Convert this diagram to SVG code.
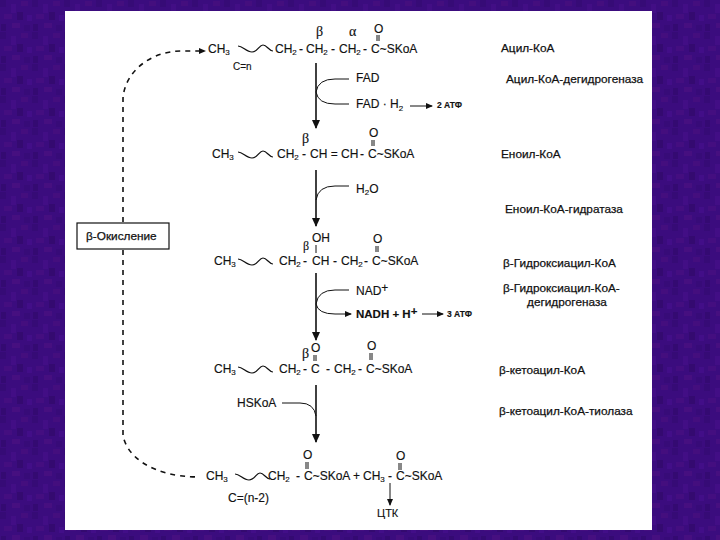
<svg xmlns="http://www.w3.org/2000/svg" width="720" height="540" viewBox="0 0 720 540">
<style>
text{font-family:"Liberation Sans",Arial,sans-serif;fill:#111;font-size:12px;stroke:#111;stroke-width:.15px}
.s{font-size:8px}
.g{font-family:"Liberation Serif","DejaVu Serif",serif;font-size:14px}
.a{font-size:8.5px;font-weight:bold}
.l{font-size:11.8px;stroke-width:.25px}
.w{fill:none;stroke:#111;stroke-width:1.2}
.t{fill:none;stroke:#111;stroke-width:1}
.m{fill:none;stroke:#111;stroke-width:1.6}
.d{fill:none;stroke:#111;stroke-width:1.6;stroke-dasharray:5 5}
</style>
<defs>
<pattern id="bg" width="32" height="32" patternUnits="userSpaceOnUse">
<rect width="32" height="32" fill="#3b0c7e"/>
<rect x="0" y="0" width="6" height="7" fill="#360b76"/>
<rect x="11" y="4" width="5" height="9" fill="#420e85"/>
<rect x="21" y="1" width="7" height="5" fill="#440e7e"/>
<rect x="4" y="14" width="8" height="5" fill="#440e80"/>
<rect x="17" y="12" width="6" height="8" fill="#340a70"/>
<rect x="27" y="15" width="5" height="6" fill="#420e88"/>
<rect x="1" y="24" width="5" height="7" fill="#340a72"/>
<rect x="12" y="23" width="8" height="5" fill="#460f80"/>
<rect x="24" y="25" width="6" height="6" fill="#370b78"/>
</pattern>
<marker id="ah" markerWidth="7" markerHeight="6" refX="6" refY="3" orient="auto" markerUnits="userSpaceOnUse"><path d="M0 0L7 3L0 6Z" fill="#111"/></marker>
<marker id="al" markerWidth="9" markerHeight="8" refX="8" refY="4" orient="auto" markerUnits="userSpaceOnUse"><path d="M0 0L9 4L0 8Z" fill="#111"/></marker>
<path id="wave" d="M0 0C5 0 8 6 14 6C20 6 21 -1 25 -1C29 -1 31 5 35 5"/>
</defs>
<rect width="720" height="540" fill="url(#bg)"/>
<rect x="65" y="11" width="587" height="519" fill="#fff"/>

<g id="connectors">
<path class="d" d="M123 222V98C125 72 150 51 182 51H205" marker-end="url(#ah)"/>
<path class="d" d="M123 250V435C126 455 150 477 200 477"/>
<path class="m" d="M316 63V128" marker-end="url(#al)"/>
<path class="m" d="M316 170V226" marker-end="url(#al)"/>
<path class="m" d="M316 273V340" marker-end="url(#al)"/>
<path class="m" d="M316 385V442" marker-end="url(#al)"/>
<path class="t" d="M349 79H335Q318 79 316 92Q318 104 335 104H349"/>
<path class="t" d="M349 186H335Q318 186 316 200"/>
<path class="t" d="M349 290H335Q318 290 316 304Q318 314 335 314H351" marker-end="url(#ah)"/>
<path class="t" d="M282 403H300Q314 403 316 416"/>
<path class="t" d="M410 106H432" marker-end="url(#ah)"/>
<path class="t" d="M422 314H443" marker-end="url(#ah)"/>
<path class="t" d="M390 483V505" marker-end="url(#ah)"/>
</g>

<g id="node-beta-ox"><rect x="77" y="223" width="92" height="26" fill="#fff" stroke="#111" stroke-width="1.2"/><text x="86" y="240" class="l">β-Окисление</text></g>

<g id="acyl-coa">
<use href="#wave" x="238" y="46" class="w"/>
<text x="208" y="53">CH<tspan class="s" dy="2">3</tspan></text>
<text y="53"><tspan x="275">CH</tspan><tspan class="s" dy="2">2</tspan><tspan x="299" dy="-2">-</tspan><tspan x="306">CH</tspan><tspan class="s" dy="2">2</tspan><tspan x="331" dy="-2">-</tspan><tspan x="339">CH</tspan><tspan class="s" dy="2">2</tspan><tspan x="363" dy="-2">-</tspan><tspan x="371">C~SKoA</tspan></text>
<text x="233" y="70" style="font-size:10px">C=n</text>
<text x="316" y="36" class="g">β</text><text x="349" y="36" class="g">α</text>
<text x="374" y="33">O</text>
<path class="t" d="M377 35V41M379 35V41"/>
<text x="356" y="82">FAD</text>
<text x="356" y="108">FAD · H<tspan class="s" dy="3">2</tspan></text>
<text x="437" y="108" class="a">2 АТФ</text>
</g>

<g id="enoyl-coa">
<use href="#wave" x="238" y="152" class="w"/>
<text x="212" y="158">CH<tspan class="s" dy="2">3</tspan></text>
<text y="158"><tspan x="277">CH</tspan><tspan class="s" dy="2">2</tspan><tspan x="302" dy="-2">-</tspan><tspan x="310">CH = CH</tspan><tspan x="360">-</tspan><tspan x="368">C~SKoA</tspan></text>
<text x="302" y="143" class="g">β</text>
<text x="369" y="137">O</text>
<path class="t" d="M372 140V146M374 140V146"/>
<text x="356" y="193">H<tspan class="s" dy="2">2</tspan><tspan dy="-2">O</tspan></text>
</g>

<g id="hydroxyacyl-coa">
<use href="#wave" x="238" y="259" class="w"/>
<text x="214" y="265">CH<tspan class="s" dy="2">3</tspan></text>
<text y="265"><tspan x="279">CH</tspan><tspan class="s" dy="2">2</tspan><tspan x="303" dy="-2">-</tspan><tspan x="312">CH</tspan><tspan x="333">-</tspan><tspan x="341">CH</tspan><tspan class="s" dy="2">2</tspan><tspan x="364" dy="-2">-</tspan><tspan x="372">C~SKoA</tspan></text>
<text x="312" y="242">OH</text>
<text x="303" y="250" class="g" style="font-size:12px">β</text>
<path class="t" d="M316 245V253"/>
<text x="373" y="243">O</text>
<path class="t" d="M376 246V252M378 246V252"/>
<text x="356" y="295">NAD<tspan dy="-3">+</tspan></text>
<text x="356" y="318" style="font-weight:bold;font-size:11.5px">NADH + H<tspan dy="-3">+</tspan></text>
<text x="447" y="317" class="a">3 АТФ</text>
</g>

<g id="ketoacyl-coa">
<use href="#wave" x="238" y="367" class="w"/>
<text x="214" y="373">CH<tspan class="s" dy="2">3</tspan></text>
<text y="373"><tspan x="279">CH</tspan><tspan class="s" dy="2">2</tspan><tspan x="303" dy="-2">-</tspan><tspan x="311">C</tspan><tspan x="326">-</tspan><tspan x="334">CH</tspan><tspan class="s" dy="2">2</tspan><tspan x="358" dy="-2">-</tspan><tspan x="366">C~SKoA</tspan></text>
<text x="302" y="358" class="g">β</text>
<text x="311" y="352">O</text>
<path class="t" d="M314 355V361M316 355V361"/>
<text x="367" y="350">O</text>
<path class="t" d="M370 353V360M372 353V360"/>
<text x="237" y="407">HSKoA</text>
</g>

<g id="products">
<use href="#wave" x="235" y="474" class="w"/>
<text x="206" y="480">CH<tspan class="s" dy="2">3</tspan></text>
<text y="480"><tspan x="268">CH</tspan><tspan class="s" dy="2">2</tspan><tspan x="296" dy="-2">-</tspan><tspan x="304">C~SKoA</tspan><tspan x="353">+</tspan><tspan x="363">CH</tspan><tspan class="s" dy="2">3</tspan><tspan x="388" dy="-2">-</tspan><tspan x="396">C~SKoA</tspan></text>
<text x="303" y="459">O</text>
<path class="t" d="M306 462V469M308 462V469"/>
<text x="396" y="460">O</text>
<path class="t" d="M399 463V470M401 463V470"/>
<text x="228" y="502">C=(n-2)</text>
<text x="377" y="517" style="font-size:11px">ЦТК</text>
</g>

<g id="labels">
<text x="501" y="52" class="l">Ацил-КоА</text>
<text x="506" y="83" class="l">Ацил-КоА-дегидрогеназа</text>
<text x="501" y="158" class="l">Еноил-КоА</text>
<text x="505" y="213" class="l">Еноил-КоА-гидратаза</text>
<text x="503" y="267" class="l">β-Гидроксиацил-КоА</text>
<text x="503" y="292" class="l">β-Гидроксиацил-КоА-</text>
<text x="527" y="306" class="l">дегидрогеназа</text>
<text x="499" y="374" class="l">β-кетоацил-КоА</text>
<text x="499" y="415" class="l">β-кетоацил-КоА-тиолаза</text>
</g>
</svg>
